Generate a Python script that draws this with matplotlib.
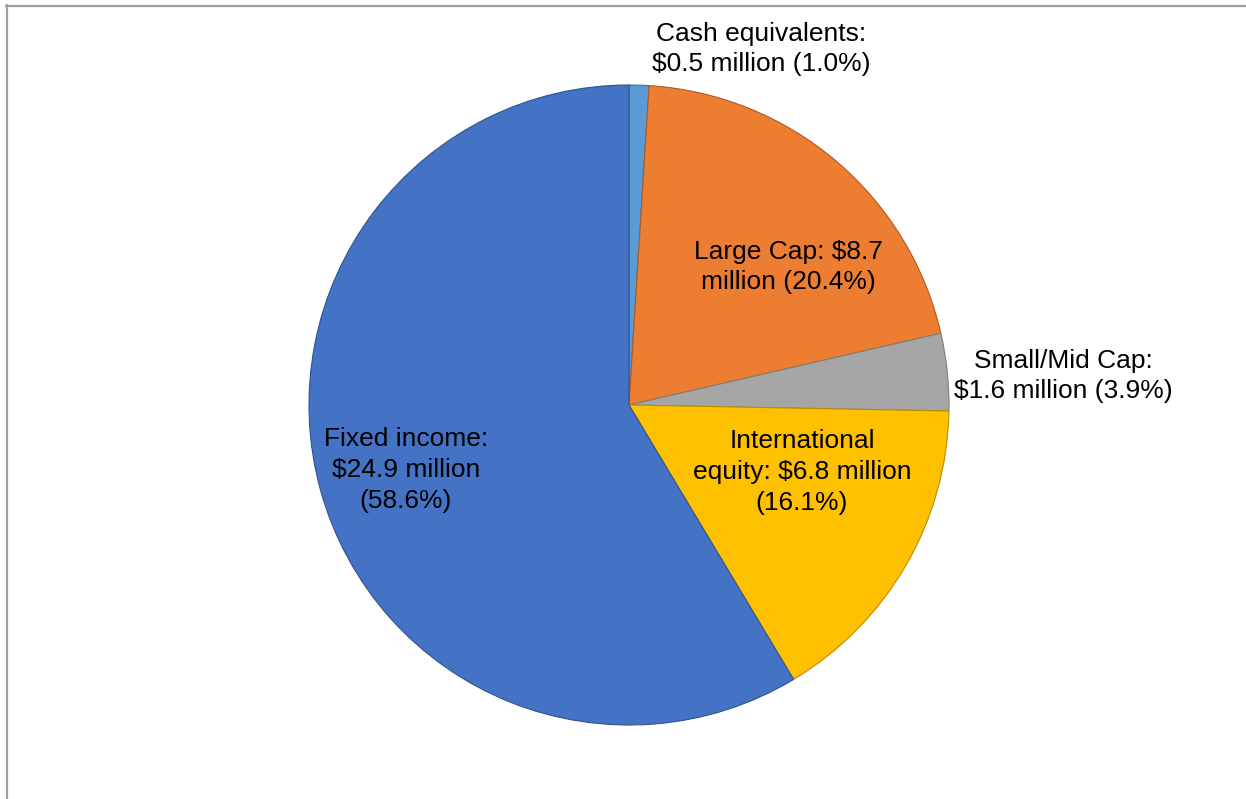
import matplotlib.pyplot as plt
from matplotlib.lines import Line2D

plt.rcParams['font.family'] = ['Liberation Sans', 'DejaVu Sans']

# asset allocation, clockwise from 12 o'clock
categories = ['Cash equivalents', 'Large Cap', 'Small/Mid Cap',
              'International equity', 'Fixed income']
amounts = [0.5, 8.7, 1.6, 6.8, 24.9]          # $ million
shares = [1.0, 20.4, 3.9, 16.1, 58.6]          # percent
labels = ['Cash equivalents:\n$0.5 million (1.0%)',
          'Large Cap: $8.7\nmillion (20.4%)',
          'Small/Mid Cap:\n$1.6 million (3.9%)',
          'International\nequity: $6.8 million\n(16.1%)',
          'Fixed income:\n$24.9 million\n(58.6%)']
colors = ['#5B9BD5', '#ED7D31', '#A5A5A5', '#FFC000', '#4472C4']
edges = ['#41719C', '#AE5A21', '#7F7F7F', '#BC8C00', '#2F528F']

W, H = 1246, 799
fig = plt.figure(figsize=(W / 100, H / 100), dpi=100)
ax = fig.add_axes([0, 0, 1, 1])

wedges, _ = ax.pie(shares, colors=colors, startangle=90, counterclock=False,
                   center=(629, H - 405), radius=320, frame=True,
                   wedgeprops=dict(linewidth=0.8))
for w, ec in zip(wedges, edges):
    w.set_edgecolor(ec)
ax.set_xlim(0, W)
ax.set_ylim(0, H)
ax.set_aspect('equal')
ax.axis('off')

# label positions in pixels (x, y from top)
label_pos = [(761, 49), (788, 267), (1063, 376), (802, 472), (406, 470)]
for txt, (x, y) in zip(labels, label_pos):
    ax.text(x, H - y, txt, ha='center', va='center', fontsize=19,
            color='black', linespacing=1.36)

# chart frame (left and top edges only)
fig.add_artist(Line2D([6.5 / W, 6.5 / W], [0, 1 - 5 / H], color='#A0A0A0',
                      lw=1.6, transform=fig.transFigure))
fig.add_artist(Line2D([6 / W, 1], [1 - 5.5 / H, 1 - 5.5 / H], color='#A0A0A0',
                      lw=1.6, transform=fig.transFigure))

fig.savefig('out.png', dpi=100)
